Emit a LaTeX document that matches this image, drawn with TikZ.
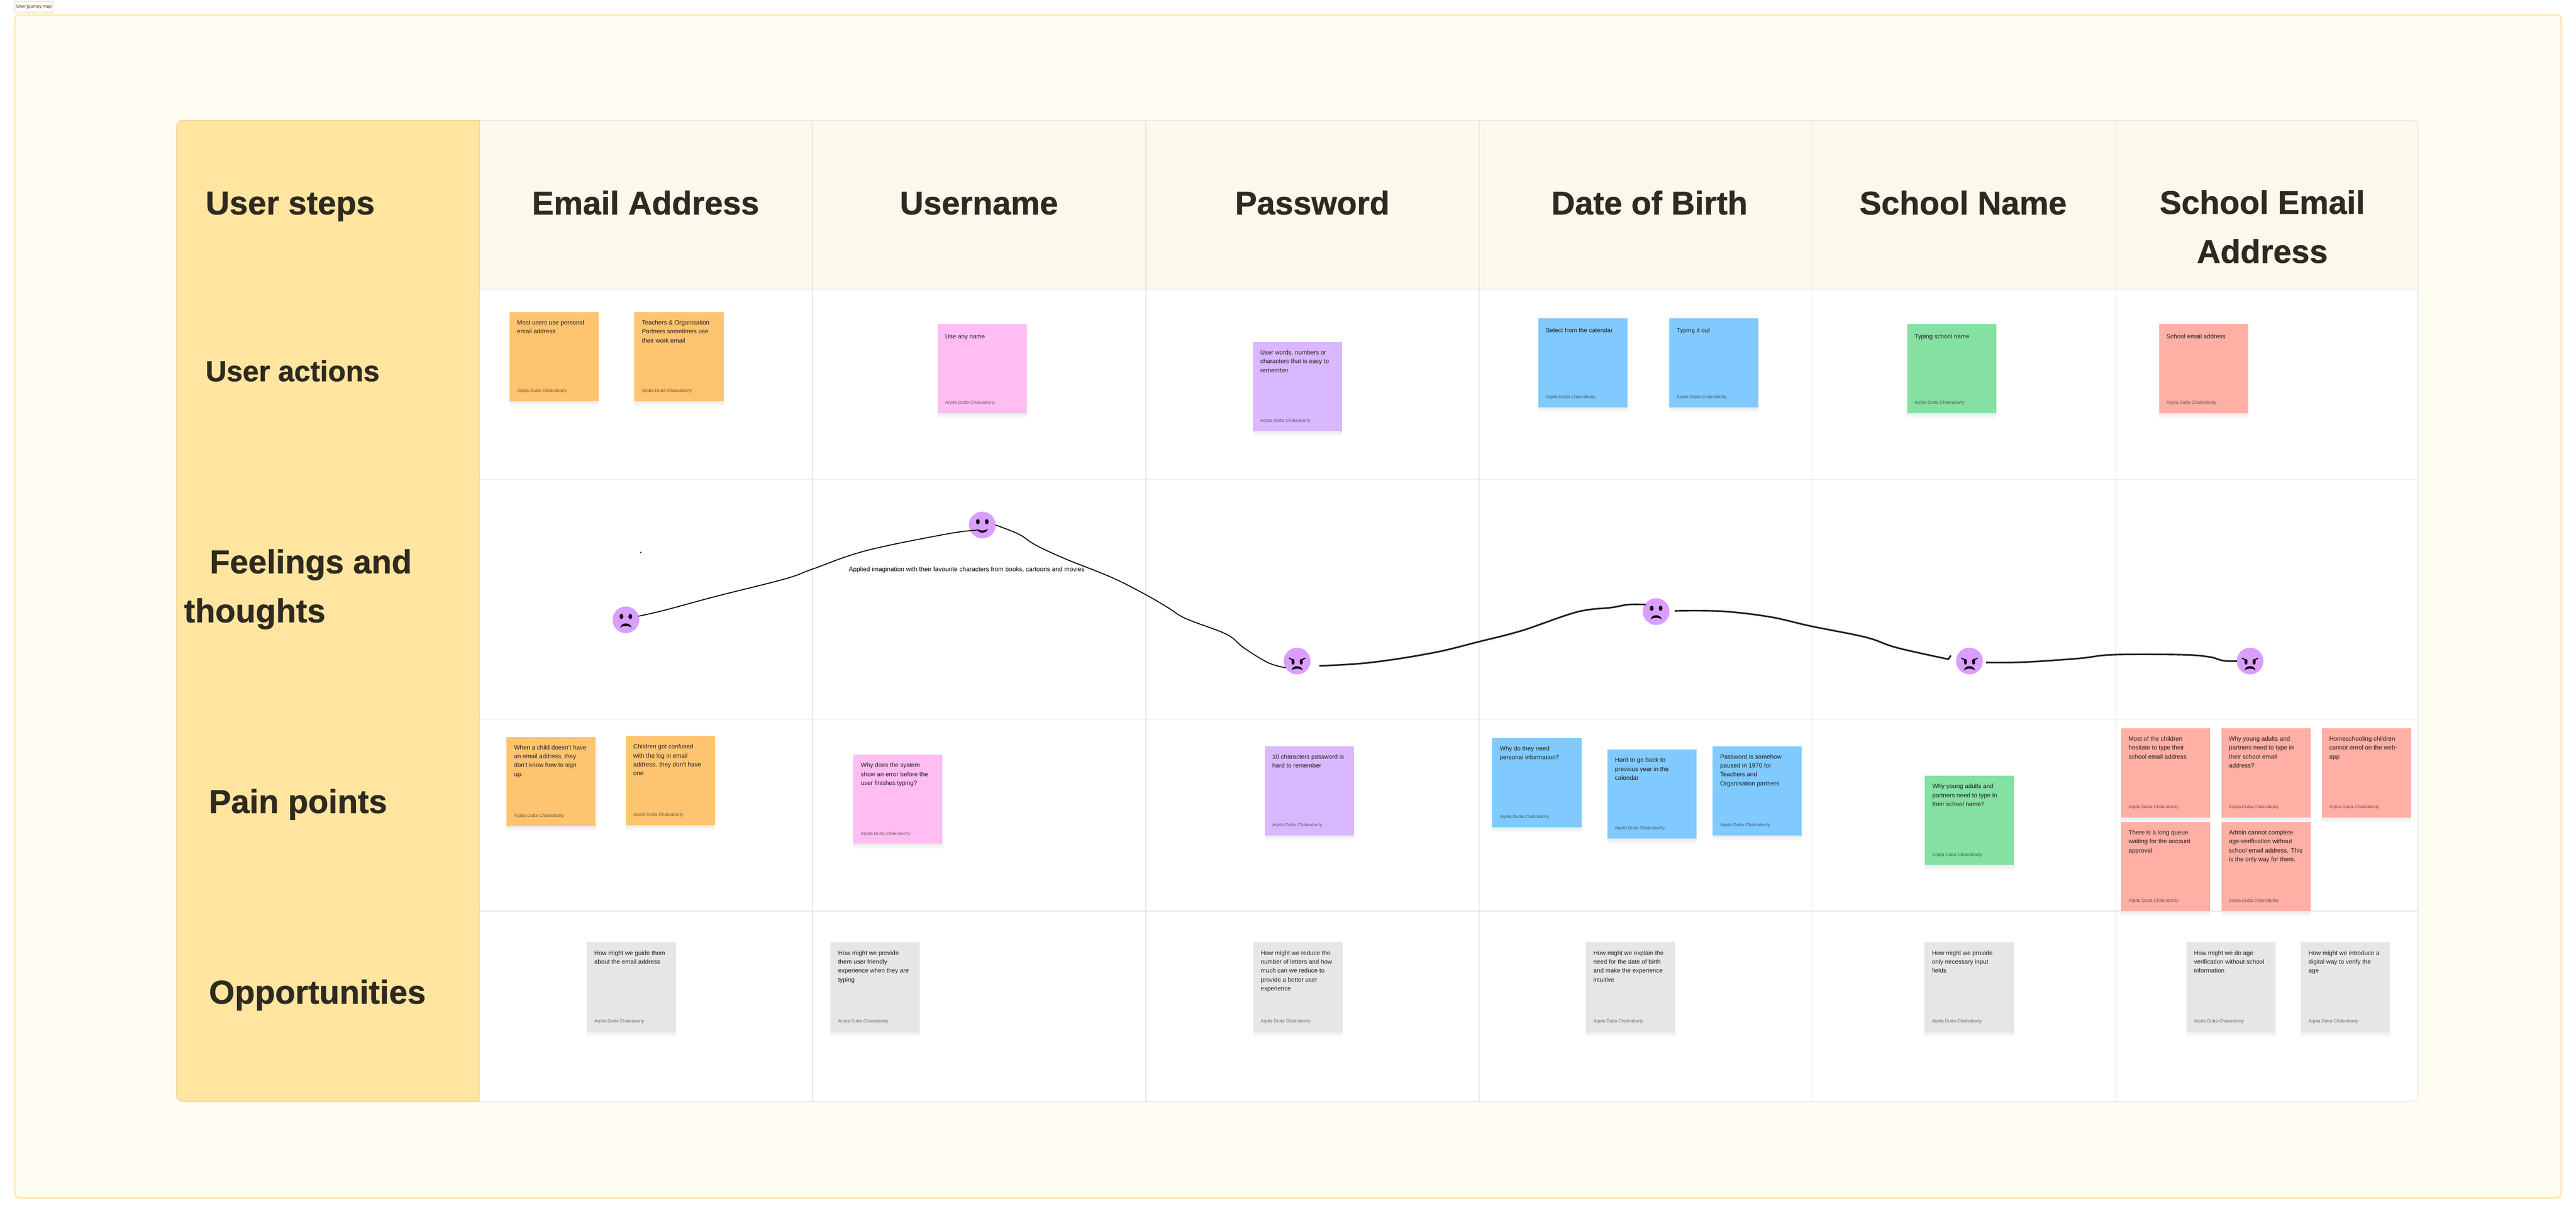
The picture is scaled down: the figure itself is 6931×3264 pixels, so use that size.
\documentclass[tikz,border=0pt]{standalone}
\usepackage{fontspec}
\setmainfont{Liberation Sans}[BoldFeatures={FakeBold=0.8}]
\usepackage{xcolor}
\usepackage{tikz}
\usetikzlibrary{calc}

\definecolor{notegold}{HTML}{FFC470}
\definecolor{notepink}{HTML}{FFBDF2}
\definecolor{notelilac}{HTML}{D9B8FF}
\definecolor{notesky}{HTML}{80CAFF}
\definecolor{notemint}{HTML}{85E0A3}
\definecolor{notecoral}{HTML}{FFAFA3}
\definecolor{notegrey}{HTML}{E6E6E6}
\definecolor{facelilac}{HTML}{DA9EFF}
\definecolor{framefill}{HTML}{FFFDF2}
\definecolor{frameedge}{HTML}{FFE29B}
\definecolor{sidefill}{HTML}{FFE5A0}
\definecolor{sideedge}{HTML}{E6D49E}
\definecolor{headfill}{HTML}{FCF8EC}
\definecolor{gridgrey}{HTML}{E6E6E6}
\definecolor{inkdark}{HTML}{2E2A20}

\tikzset{
	notebox/.style={anchor=north west,minimum size=240pt,inner sep=0pt,outer sep=0pt},
	noteshadow/.style={top color=black!8,bottom color=white},
	notetext/.style={anchor=north west,inner sep=0pt,align=left,text=black!88,font=\fontsize{16.6}{24}\selectfont\strut},
	noteby/.style={anchor=base west,inner sep=0pt,text=black,text opacity=0.55,font=\fontsize{12.2}{14}\selectfont},
	facebox/.style={circle,fill=facelilac,minimum size=72pt,inner sep=0pt,outer sep=0pt},
	headtext/.style={anchor=base,inner sep=0pt,text=inkdark,font=\fontsize{88}{132}\selectfont\bfseries},
	sidetext/.style={anchor=base west,inner sep=0pt,text=inkdark,font=\fontsize{89}{132}\selectfont\bfseries},
	gridline/.style={draw=gridgrey,line width=2pt},
	thinpath/.style={line width=2.6pt,line cap=round,line join=round},
	thickpath/.style={line width=4.4pt,draw=black!88,line join=round}
}

\newcommand{\stickynote}[5]{%
	\shade[noteshadow] ($(#2,#3)+(0,240)$) rectangle ++(240,15);
	\node[notebox,fill=#4] (#1) at (#2,#3) {};
	\node[notetext] (#1text) at ($(#1.north west)+(20,22)$) {#5};
	\node[noteby] (#1by) at ($(#1.north west)+(20,216)$) {Arpita Dutta Chakraborty};
}
\newcommand{\faceeyes}{%
	\fill (-12,-9) ellipse [x radius=5,y radius=7];
	\fill (12,-9) ellipse [x radius=5,y radius=7];
}
\newcommand{\frownmouth}{%
	\fill (-15,21) .. controls (-12,6) and (12,6) .. (15,21) .. controls (8,15) and (-8,15) .. (-15,21);
}
\newcommand{\sadface}[3]{%
	\begin{scope}[shift={(#2,#3)}]
		\node[facebox] (#1) at (0,0) {};
		\faceeyes
		\frownmouth
	\end{scope}
}
\newcommand{\gladface}[3]{%
	\begin{scope}[shift={(#2,#3)}]
		\node[facebox] (#1) at (0,0) {};
		\faceeyes
		\fill (-15,10) .. controls (-12,24) and (12,24) .. (15,10) .. controls (8,16) and (-8,16) .. (-15,10);
	\end{scope}
}
\newcommand{\crossface}[3]{%
	\begin{scope}[shift={(#2,#3)}]
		\node[facebox] (#1) at (0,0) {};
		\fill (-11,2) ellipse [x radius=4,y radius=8];
		\fill (11,2) ellipse [x radius=4,y radius=8];
		\draw[line width=3pt] (-22,-8) -- (-8,-1) (22,-8) -- (8,-1);
		\begin{scope}[shift={(0,4)}]
			\frownmouth
		\end{scope}
	\end{scope}
}

\begin{document}
\begin{tikzpicture}[x=1pt,y=-1pt]
	\useasboundingbox (0,0) rectangle (6931,3264);
	\fill[white] (0,0) rectangle (6931,3264);
	\node[draw=black!18,line width=1.5pt,fill=framefill,rounded corners=3pt,minimum width=103pt,minimum height=29pt,inner sep=0pt,font=\fontsize{12}{14}\selectfont,text=black!85] (maptag) at (91.5,18.5) {User journey map};
	\draw[draw=frameedge,line width=3pt,fill=framefill,rounded corners=12pt] (40,40) rectangle (6891,3224);

	\draw[draw=gridgrey,line width=2pt,fill=white,rounded corners=16pt] (475,324) rectangle (6506,2964);
	\draw[draw=gridgrey,line width=2pt,fill=headfill]
		(1290,778) -- (1290,324) [rounded corners=16pt] -- (6506,324) [sharp corners] -- (6506,778) -- cycle
		;
	\draw[draw=sideedge,line width=1.5pt,fill=sidefill]
		(1290,324) [rounded corners=16pt] -- (475,324) -- (475,2964) [sharp corners] -- (1290,2964) -- cycle
		;
	\draw[gridline]
		(2186,324) -- (2186,2964)
		(3083,324) -- (3083,2964)
		(3980,324) -- (3980,2964)
		(4877,324) -- (4877,2964)
		(5692,324) -- (5692,2964)
		(1290,778) -- (6506,778)
		(1290,1290) -- (6506,1290)
		(1290,1936) -- (6506,1936)
		(1290,2452) -- (6506,2452)
		;

	\node[sidetext] (stepsSide) at (553,577) {User steps};
	\node[headtext] (emailHead) at (1737,577) {Email Address};
	\node[headtext] (nameHead) at (2634,577) {Username};
	\node[headtext] (passHead) at (3531,577) {Password};
	\node[headtext] (birthHead) at (4438,577) {Date of Birth};
	\node[headtext] (schoolHead) at (5282,577) {School Name};
	\node[headtext,anchor=center,align=center] (schoolMailHead) at (6087,610) {School Email\\Address};
	\node[sidetext] (actionsSide) at (553,1026) {\fontsize{78}{132}\selectfont User actions};
	\node[sidetext,anchor=west,align=left] (feelSide) at (495,1586) {\hspace*{69pt}Feelings and\\thoughts};
	\node[sidetext] (painSide) at (562,2188) {Pain points};
	\node[sidetext] (opportSide) at (562,2701) {Opportunities};

	\stickynote{actOne}{1371}{840}{notegold}{Most users use personal\\email address}
	\stickynote{actTwo}{1707}{840}{notegold}{Teachers \& Organisation\\Partners sometimes use\\their work email}
	\stickynote{actThree}{2523}{872}{notepink}{Use any name}
	\stickynote{actFour}{3371}{920}{notelilac}{User words, numbers or\\characters that is easy to\\remember}
	\stickynote{actFive}{4139}{856}{notesky}{Select from the calendar}
	\stickynote{actSix}{4491}{856}{notesky}{Typing it out}
	\stickynote{actSeven}{5131}{872}{notemint}{Typing school name}
	\stickynote{actEight}{5809}{872}{notecoral}{School email address}

	\stickynote{painOne}{1363}{1983}{notegold}{When a child doesn't have\\an email address, they\\don't know how to sign\\up.}
	\stickynote{painTwo}{1684}{1981}{notegold}{Children got confused\\with the log in email\\address. they don't have\\one}
	\stickynote{painThree}{2296}{2031}{notepink}{Why does the system\\show an error before the\\user finishes typing?}
	\stickynote{painFour}{3403}{2008}{notelilac}{10 characters password is\\hard to remember}
	\stickynote{painFive}{4015}{1986}{notesky}{Why do they need\\personal information?}
	\stickynote{painSix}{4325}{2017}{notesky}{Hard to go back to\\previous year in the\\calendar}
	\stickynote{painSeven}{4608}{2008}{notesky}{Password is somehow\\paused in 1970 for\\Teachers and\\Organisation partners}
	\stickynote{painEight}{5179}{2088}{notemint}{Why young adults and\\partners need to type in\\their school name?}
	\stickynote{painNine}{5707}{1960}{notecoral}{Most of the children\\hesitate to type their\\school email address}
	\stickynote{painTen}{5977}{1960}{notecoral}{Why young adults and\\partners need to type in\\their school email\\address?}
	\stickynote{painEleven}{6247}{1960}{notecoral}{Homeschooling children\\cannot enrol on the web-\\app}
	\stickynote{painTwelve}{5707}{2212}{notecoral}{There is a long queue\\waiting for the account\\approval}
	\stickynote{painThirteen}{5977}{2212}{notecoral}{Admin cannot complete\\age-verification without\\school email address. This\\is the only way for them.}

	\stickynote{oppOne}{1579}{2536}{notegrey}{How might we guide them\\about the email address}
	\stickynote{oppTwo}{2235}{2536}{notegrey}{How might we provide\\them user friendly\\experience when they are\\typing}
	\stickynote{oppThree}{3372}{2536}{notegrey}{How might we reduce the\\number of letters and how\\much can we reduce to\\provide a better user\\experience}
	\stickynote{oppFour}{4267}{2536}{notegrey}{How might we explain the\\need for the date of birth\\and make the experience\\intuitive}
	\stickynote{oppFive}{5178}{2536}{notegrey}{How might we provide\\only necessary input\\fields}
	\stickynote{oppSix}{5883}{2536}{notegrey}{How might we do age\\verification without school\\information}
	\stickynote{oppSeven}{6191}{2536}{notegrey}{How might we introduce a\\digital way to verify the\\age}

	\sadface{moodOne}{1684}{1668}
	\gladface{moodTwo}{2643}{1413}
	\crossface{moodThree}{3490}{1779}
	\sadface{moodFour}{4456}{1646}
	\crossface{moodFive}{5299}{1779}
	\crossface{moodSix}{6054}{1779}

	\fill (1724,1487) ellipse [x radius=1.5,y radius=2.5];
	\node[inner sep=0pt,anchor=base,text=black,font=\fontsize{17.1}{24}\selectfont] (imagineNote) at (2601,1538) {Applied imagination with their favourite characters from books, cartoons and movies};

	\draw[thinpath] plot[smooth,tension=0.6] coordinates {
		(moodOne.16) (1785,1643) (1930,1604) (2112,1558) (2185,1532) (2330,1482) (2548,1437) ($(moodTwo)+(-16,14)$)
		};
	\draw[thinpath] plot[smooth,tension=0.6] coordinates {
		(moodTwo.0) (2742,1438) (2785,1466) (2864,1503) (2991,1554) (3082,1600) (3142,1635) (3191,1665) (3300,1707) (3346,1743) (3411,1783) (moodThree.210)
		};
	\draw[thickpath] plot[smooth,tension=0.6] coordinates {
		($(moodThree)+(60,13)$) (3688,1783) (3855,1757) (3979,1727) (4095,1697) (4243,1647) (4336,1635) (4382,1627) ($(moodFour)+(-28,-19)$)
		};
	\draw[thickpath] plot[smooth,tension=0.6] coordinates {
		($(moodFour)+(50,-2)$) (4632,1645) (4761,1660) (4872,1685) (5020,1715) (5103,1743) ($(moodFive)+(-57,-5)$)
		} -- ($(moodFive)+(-50,-15)$);
	\draw[thickpath] plot[smooth,tension=0.6] coordinates {
		($(moodFive)+(45,4)$) (5445,1782) (5593,1772) (5686,1762) (5871,1762) (5945,1768) (5982,1778) ($(moodSix)+(-35,0)$)
		};
\end{tikzpicture}
\end{document}
